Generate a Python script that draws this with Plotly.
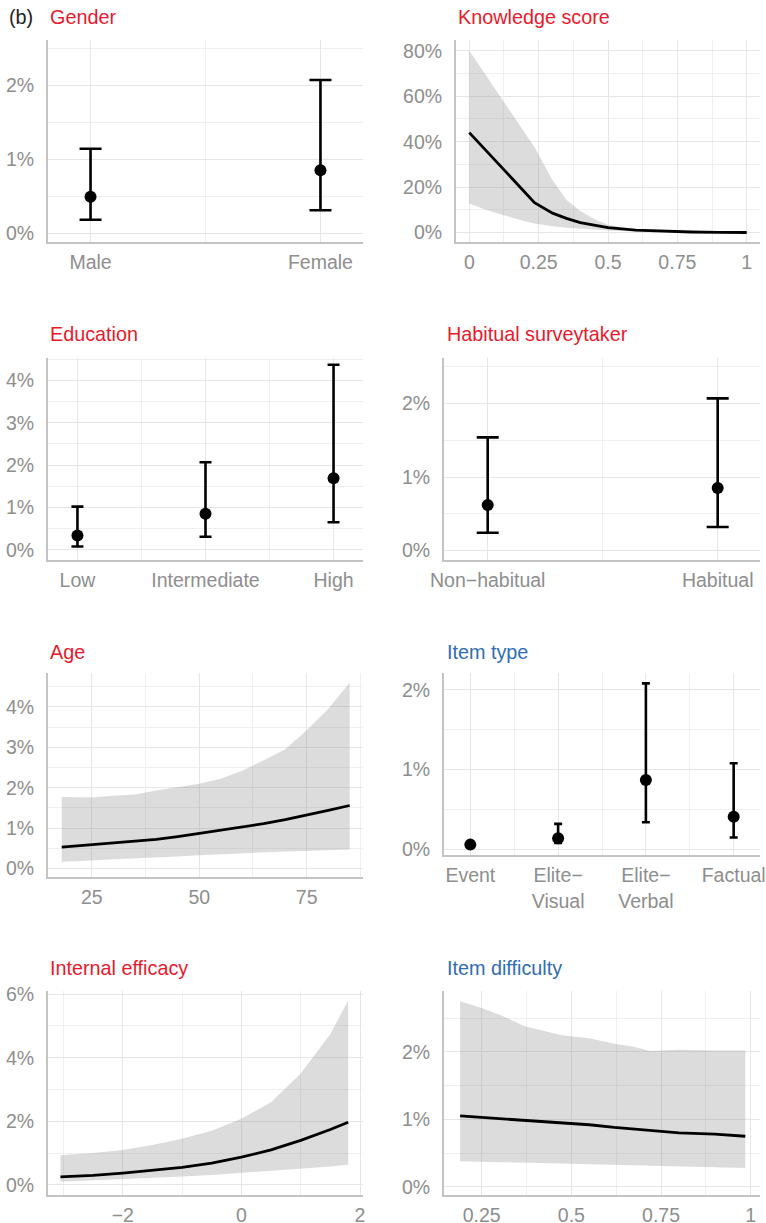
import plotly.graph_objects as go

# ---------------- DATA (values in percent) ----------------
gender_cats = ["Male", "Female"]
gender_mean = [0.49, 0.85]
gender_low = [0.18, 0.31]
gender_high = [1.14, 2.07]

edu_cats = ["Low", "Intermediate", "High"]
edu_mean = [0.34, 0.85, 1.69]
edu_low = [0.08, 0.31, 0.65]
edu_high = [1.02, 2.07, 4.37]

hab_cats = ["Non\u2212habitual", "Habitual"]
hab_mean = [0.62, 0.85]
hab_low = [0.24, 0.32]
hab_high = [1.54, 2.07]

itype_cats = ["Event", "Elite\u2212<br>Visual", "Elite\u2212<br>Verbal", "Factual"]
itype_mean = [0.06, 0.14, 0.87, 0.41]
itype_low = [0.03, 0.08, 0.34, 0.15]
itype_high = [0.09, 0.32, 2.08, 1.08]

know_x = [0, 0.05, 0.1, 0.15, 0.2, 0.235, 0.3, 0.35, 0.4, 0.45, 0.5, 0.6, 0.7, 0.8, 0.9, 1.0]
know_fit = [44, 37.4, 30.8, 24.2, 17.6, 13.2, 8.6, 6.3, 4.4, 3.2, 2.2, 1.1, 0.55, 0.3, 0.15, 0.08]
know_upper = [80, 71, 62, 53, 44, 37.5, 23, 14.5, 9.5, 6, 3.5, 1.3, 0.6, 0.35, 0.2, 0.1]
know_lower = [12.8, 10.5, 8.5, 6.6, 5.0, 4.0, 2.8, 2.2, 1.7, 1.3, 1.0, 0.5, 0.25, 0.12, 0.06, 0.03]

age_x = [18, 25, 30, 35, 40, 45, 50, 55, 60, 65, 70, 75, 80, 85]
age_fit = [0.53, 0.59, 0.64, 0.68, 0.72, 0.79, 0.87, 0.94, 1.03, 1.11, 1.21, 1.32, 1.44, 1.56]
age_upper = [1.77, 1.76, 1.80, 1.83, 1.93, 2.02, 2.10, 2.22, 2.42, 2.68, 2.95, 3.42, 3.95, 4.6]
age_lower = [0.17, 0.20, 0.23, 0.26, 0.28, 0.30, 0.33, 0.35, 0.38, 0.40, 0.42, 0.44, 0.45, 0.47]

eff_x = [-3.05, -2.5, -2, -1.5, -1, -0.5, 0, 0.5, 1, 1.5, 1.8]
eff_fit = [0.25, 0.30, 0.37, 0.45, 0.55, 0.68, 0.87, 1.1, 1.40, 1.74, 1.97]
eff_upper = [0.93, 1.0, 1.1, 1.25, 1.45, 1.7, 2.08, 2.6, 3.5, 4.75, 5.8]
eff_lower = [0.1, 0.14, 0.18, 0.22, 0.26, 0.31, 0.37, 0.44, 0.51, 0.58, 0.63]

diff_x = [0.19, 0.25, 0.3, 0.37, 0.47, 0.55, 0.62, 0.67, 0.72, 0.75, 0.8, 0.9, 0.985]
diff_fit = [1.05, 1.03, 1.01, 0.98, 0.95, 0.92, 0.88, 0.86, 0.84, 0.83, 0.80, 0.78, 0.75]
diff_upper = [2.75, 2.65, 2.55, 2.38, 2.25, 2.2, 2.12, 2.08, 2.01, 2.02, 2.03, 2.02, 2.02]
diff_lower = [0.38, 0.37, 0.37, 0.36, 0.35, 0.34, 0.33, 0.32, 0.32, 0.31, 0.30, 0.29, 0.28]

# ---------------- STYLE ----------------
W, H = 766, 1223
FONT = "Liberation Sans, Arial, Helvetica, sans-serif"
TICK_COLOR = "#8e8e8e"
GRID = "#e6e6e6"
MINOR_GRID = "#efefef"
AXIS_LINE = "#c4c4c4"
RED = "#e8192c"
BLUE = "#2f6db5"
RIBBON = "rgba(140,140,140,0.30)"
TICK_SIZE = 19.5
TITLE_SIZE = 19.8


def px_x(a, b):
    return [a / W, b / W]


def px_y(top, bottom):
    return [1 - bottom / H, 1 - top / H]


fig = go.Figure()


def add_axes(i, xdom, ydom, xr, yr, xtv, xtt, xminor, ytv, yminor):
    xs = "xaxis" if i == 1 else f"xaxis{i}"
    ys = "yaxis" if i == 1 else f"yaxis{i}"
    xa = "x" if i == 1 else f"x{i}"
    ya = "y" if i == 1 else f"y{i}"
    fig.layout[xs] = dict(
        domain=xdom, anchor=ya, range=xr, tickmode="array", tickvals=xtv, ticktext=xtt,
        showgrid=True, gridcolor=GRID, gridwidth=1.3, zeroline=False,
        showline=True, linecolor=AXIS_LINE, linewidth=2, ticks="",
        ticklabelstandoff=2, automargin=False,
        tickfont=dict(family=FONT, size=TICK_SIZE, color=TICK_COLOR),
        minor=dict(tickmode="array", tickvals=xminor, showgrid=True, gridcolor=MINOR_GRID, gridwidth=1, ticks=""),
        fixedrange=True,
    )
    fig.layout[ys] = dict(
        domain=ydom, anchor=xa, range=yr, tickmode="array", tickvals=ytv,
        ticktext=[f"{v:g}%" for v in ytv],
        showgrid=True, gridcolor=GRID, gridwidth=1.3, zeroline=False,
        showline=True, linecolor=AXIS_LINE, linewidth=2, ticks="",
        ticklabelstandoff=8, automargin=False,
        tickfont=dict(family=FONT, size=TICK_SIZE, color=TICK_COLOR),
        minor=dict(tickmode="array", tickvals=yminor, showgrid=True, gridcolor=MINOR_GRID, gridwidth=1, ticks=""),
        fixedrange=True,
    )


def add_points(i, cats, mean, low, high, capw):
    xa = "x" if i == 1 else f"x{i}"
    ya = "y" if i == 1 else f"y{i}"
    pos = list(range(1, len(cats) + 1))
    fig.add_trace(go.Scatter(
        x=pos, y=mean, xaxis=xa, yaxis=ya, mode="markers",
        marker=dict(color="black", size=12),
        error_y=dict(type="data", symmetric=False,
                     array=[h - m for h, m in zip(high, mean)],
                     arrayminus=[m - l for m, l in zip(mean, low)],
                     color="black", thickness=2.6, width=capw),
        showlegend=False, hoverinfo="skip",
    ))


def add_ribbon(i, x, fit, lower, upper):
    xa = "x" if i == 1 else f"x{i}"
    ya = "y" if i == 1 else f"y{i}"
    fig.add_trace(go.Scatter(
        x=list(x) + list(x)[::-1], y=list(upper) + list(lower)[::-1],
        xaxis=xa, yaxis=ya, mode="lines", fill="toself", fillcolor=RIBBON,
        line=dict(width=0), showlegend=False, hoverinfo="skip",
    ))
    fig.add_trace(go.Scatter(
        x=x, y=fit, xaxis=xa, yaxis=ya, mode="lines",
        line=dict(color="black", width=2.8), showlegend=False, hoverinfo="skip",
    ))


LX = px_x(48, 363)
RX = px_x(444, 760)
RXK = px_x(456, 760)
R1 = px_y(40, 242)
R2 = px_y(358, 560)
R3L = px_y(673, 877)
R3R = px_y(673, 855)
R4 = px_y(991, 1195)

# 1 Gender
add_axes(1, LX, R1, [0.815, 2.185], [-0.12, 2.61], [1, 2], gender_cats, [1.5], [0, 1, 2], [0.5, 1.5, 2.5])
add_points(1, gender_cats, gender_mean, gender_low, gender_high, 11)
# 2 Knowledge score
add_axes(2, RXK, R1, [-0.048, 1.048], [-4.1, 84.7], [0, 0.25, 0.5, 0.75, 1], ["0", "0.25", "0.5", "0.75", "1"],
         [0.125, 0.375, 0.625, 0.875], [0, 20, 40, 60, 80], [10, 30, 50, 70])
add_ribbon(2, know_x, know_fit, know_lower, know_upper)
# 3 Education
add_axes(3, LX, R2, [0.77, 3.23], [-0.24, 4.53], [1, 2, 3], edu_cats, [1.5, 2.5], [0, 1, 2, 3, 4], [0.5, 1.5, 2.5, 3.5, 4.5])
add_points(3, edu_cats, edu_mean, edu_low, edu_high, 6)
# 4 Habitual
add_axes(4, RX, R2, [0.81, 2.184], [-0.13, 2.62], [1, 2], hab_cats, [1.5], [0, 1, 2], [0.5, 1.5, 2.5])
add_points(4, hab_cats, hab_mean, hab_low, hab_high, 11)
# 5 Age
add_axes(5, LX, R3L, [14.8, 88.1], [-0.21, 4.84], [25, 50, 75], ["25", "50", "75"], [37.5, 62.5, 87.5],
         [0, 1, 2, 3, 4], [0.5, 1.5, 2.5, 3.5, 4.5])
add_ribbon(5, age_x, age_fit, age_lower, age_upper)
# 6 Item type
add_axes(6, RX, R3R, [0.7, 4.3], [-0.07, 2.21], [1, 2, 3, 4], itype_cats, [1.5, 2.5, 3.5], [0, 1, 2], [0.5, 1.5])
add_points(6, itype_cats, itype_mean, itype_low, itype_high, 4)
# 7 Internal efficacy
add_axes(7, LX, R4, [-3.26, 2.05], [-0.32, 6.1], [-2, 0, 2], ["\u22122", "0", "2"], [-3, -1, 1],
         [0, 2, 4, 6], [1, 3, 5])
add_ribbon(7, eff_x, eff_fit, eff_lower, eff_upper)
# 8 Item difficulty
add_axes(8, RX, R4, [0.145, 1.026], [-0.12, 2.9], [0.25, 0.5, 0.75, 1], ["0.25", "0.5", "0.75", "1"],
         [0.375, 0.625, 0.875], [0, 1, 2], [0.5, 1.5, 2.5])
add_ribbon(8, diff_x, diff_fit, diff_lower, diff_upper)

titles = [
    ("Gender", 48, 17, RED),
    ("Knowledge score", 456, 17, RED),
    ("Education", 48, 334, RED),
    ("Habitual surveytaker", 445, 334, RED),
    ("Age", 48, 652, RED),
    ("Item type", 445, 652, BLUE),
    ("Internal efficacy", 48, 968, RED),
    ("Item difficulty", 445, 968, BLUE),
]
for text, xp, yp, col in titles:
    fig.add_annotation(text=text, x=xp / W, y=1 - yp / H, xref="paper", yref="paper",
                       xanchor="left", yanchor="middle", showarrow=False,
                       font=dict(family=FONT, size=TITLE_SIZE, color=col))
fig.add_annotation(text="(b)", x=7 / W, y=1 - 17 / H, xref="paper", yref="paper",
                   xanchor="left", yanchor="middle", showarrow=False,
                   font=dict(family=FONT, size=TITLE_SIZE, color="#222222"))

fig.update_layout(
    width=W, height=H, margin=dict(l=0, r=0, t=0, b=0, autoexpand=False),
    paper_bgcolor="white", plot_bgcolor="white", showlegend=False,
    font=dict(family=FONT),
)

fig.write_html("out.html", config={"displayModeBar": False},
               post_script="document.body.style.margin='0';document.body.style.overflow='hidden';")
